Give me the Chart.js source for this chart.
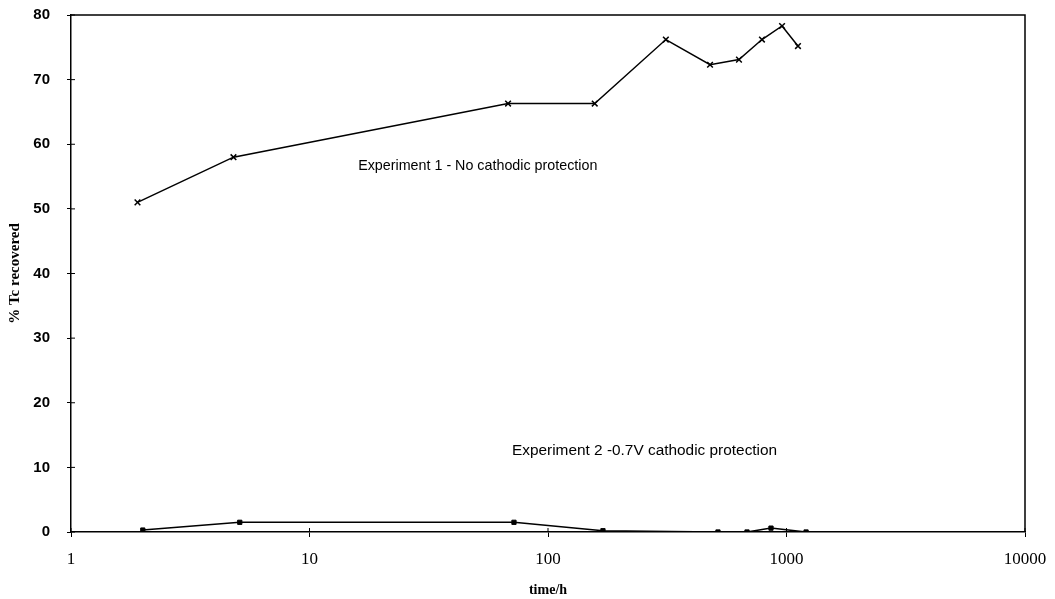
<!DOCTYPE html>
<html>
<head>
<meta charset="utf-8">
<script src="https://cdn.jsdelivr.net/npm/chart.js@4/dist/chart.umd.min.js"></script>
<style>
  html, body { margin: 0; padding: 0; background: #fff; }
  canvas { display: block; }
</style>
</head>
<body>
<canvas id="chart" width="1055" height="599"></canvas>
<script>
// time in hours, % Tc recovered
const exp1Time = [1.9, 4.8, 68, 157, 312, 478, 632, 789, 958, 1117];
const exp1Value = [51, 58, 66.3, 66.3, 76.2, 72.3, 73.1, 76.2, 78.3, 75.2];

const exp2Time = [2.0, 5.1, 72, 170, 516, 683, 861, 1208];
const exp2Value = [0.3, 1.5, 1.5, 0.2, 0, 0, 0.6, 0];

const xTicks = [1, 10, 100, 1000, 10000];
const yMin = 0;
const yMax = 80;
const yStep = 10;

const labelNotes = [
  { text: "Experiment 1 - No cathodic protection", x: 16, y: 56.6, size: 14.3 },
  { text: "Experiment 2 -0.7V cathodic protection", x: 70.6, y: 12.5, size: 15.4 }
];

function toPoints(xs, ys) {
  return xs.map((x, i) => ({ x, y: ys[i] }));
}

// frame, inward tick marks and the two text notes
const decorPlugin = {
  id: "decor",
  afterDatasetsDraw(chart) {
    const { ctx, chartArea, scales } = chart;
    ctx.save();
    ctx.strokeStyle = "#000";
    ctx.lineWidth = 1.5;
    ctx.beginPath();
    ctx.moveTo(chartArea.left, chartArea.top);
    ctx.lineTo(chartArea.right, chartArea.top);
    ctx.lineTo(chartArea.right, chartArea.bottom);
    ctx.stroke();

    ctx.lineWidth = 1;
    ctx.beginPath();
    for (let v = yMin; v <= yMax; v += yStep) {
      const py = scales.y.getPixelForValue(v);
      ctx.moveTo(chartArea.left, py);
      ctx.lineTo(chartArea.left + 4, py);
    }
    xTicks.forEach(v => {
      const px = scales.x.getPixelForValue(v);
      ctx.moveTo(px, chartArea.bottom);
      ctx.lineTo(px, chartArea.bottom - 4);
    });
    ctx.stroke();

    ctx.fillStyle = "#000";
    ctx.textAlign = "left";
    ctx.textBaseline = "middle";
    labelNotes.forEach(n => {
      ctx.font = n.size + "px 'Liberation Sans', Arial, sans-serif";
      ctx.fillText(n.text, scales.x.getPixelForValue(n.x), scales.y.getPixelForValue(n.y));
    });
    ctx.restore();
  }
};

new Chart(document.getElementById("chart"), {
  type: "line",
  data: {
    datasets: [
      {
        label: "Experiment 1",
        data: toPoints(exp1Time, exp1Value),
        borderColor: "#000",
        backgroundColor: "#000",
        borderWidth: 1.5,
        pointStyle: "crossRot",
        pointRadius: 4,
        pointBorderWidth: 1.5,
        tension: 0
      },
      {
        label: "Experiment 2",
        data: toPoints(exp2Time, exp2Value),
        borderColor: "#000",
        backgroundColor: "#000",
        borderWidth: 1.5,
        pointStyle: "rect",
        pointRadius: 3,
        pointBorderWidth: 1,
        tension: 0
      }
    ]
  },
  options: {
    responsive: false,
    animation: false,
    layout: { padding: { top: 15, right: 30, left: 0, bottom: 0 } },
    plugins: {
      legend: { display: false },
      tooltip: { enabled: false }
    },
    scales: {
      x: {
        type: "logarithmic",
        min: 1,
        max: 10000,
        afterBuildTicks: scale => {
          scale.ticks = xTicks.map(v => ({ value: v }));
        },
        afterFit: scale => {
          scale.height = 67;
          scale.paddingLeft = 0;
          scale.paddingRight = 0;
        },
        grid: { display: true, drawOnChartArea: false, drawTicks: true, tickLength: 5, color: "#000" },
        border: { display: true, color: "#000", width: 1.5 },
        ticks: {
          color: "#000",
          padding: 12,
          maxRotation: 0,
          autoSkip: false,
          font: { family: "'Liberation Serif', 'Times New Roman', serif", size: 17 },
          callback: v => String(v)
        },
        title: {
          display: true,
          text: "time/h",
          color: "#000",
          padding: { top: 0, bottom: 0 },
          font: { family: "'Liberation Serif', 'Times New Roman', serif", size: 14, weight: "bold" }
        }
      },
      y: {
        min: yMin,
        max: yMax,
        afterFit: scale => {
          scale.width = 71;
          scale.paddingTop = 0;
          scale.paddingBottom = 0;
        },
        grid: { display: true, drawOnChartArea: false, drawTicks: true, tickLength: 4, color: "#000" },
        border: { display: true, color: "#000", width: 1.5 },
        ticks: {
          stepSize: yStep,
          color: "#000",
          padding: 17,
          font: { family: "'Liberation Sans', Arial, sans-serif", size: 15, weight: "bold" }
        },
        title: {
          display: true,
          text: "% Tc recovered",
          color: "#000",
          padding: { top: 6, bottom: 0 },
          font: { family: "'Liberation Serif', 'Times New Roman', serif", size: 15, weight: "bold" }
        }
      }
    }
  },
  plugins: [decorPlugin]
});
</script>
</body>
</html>
